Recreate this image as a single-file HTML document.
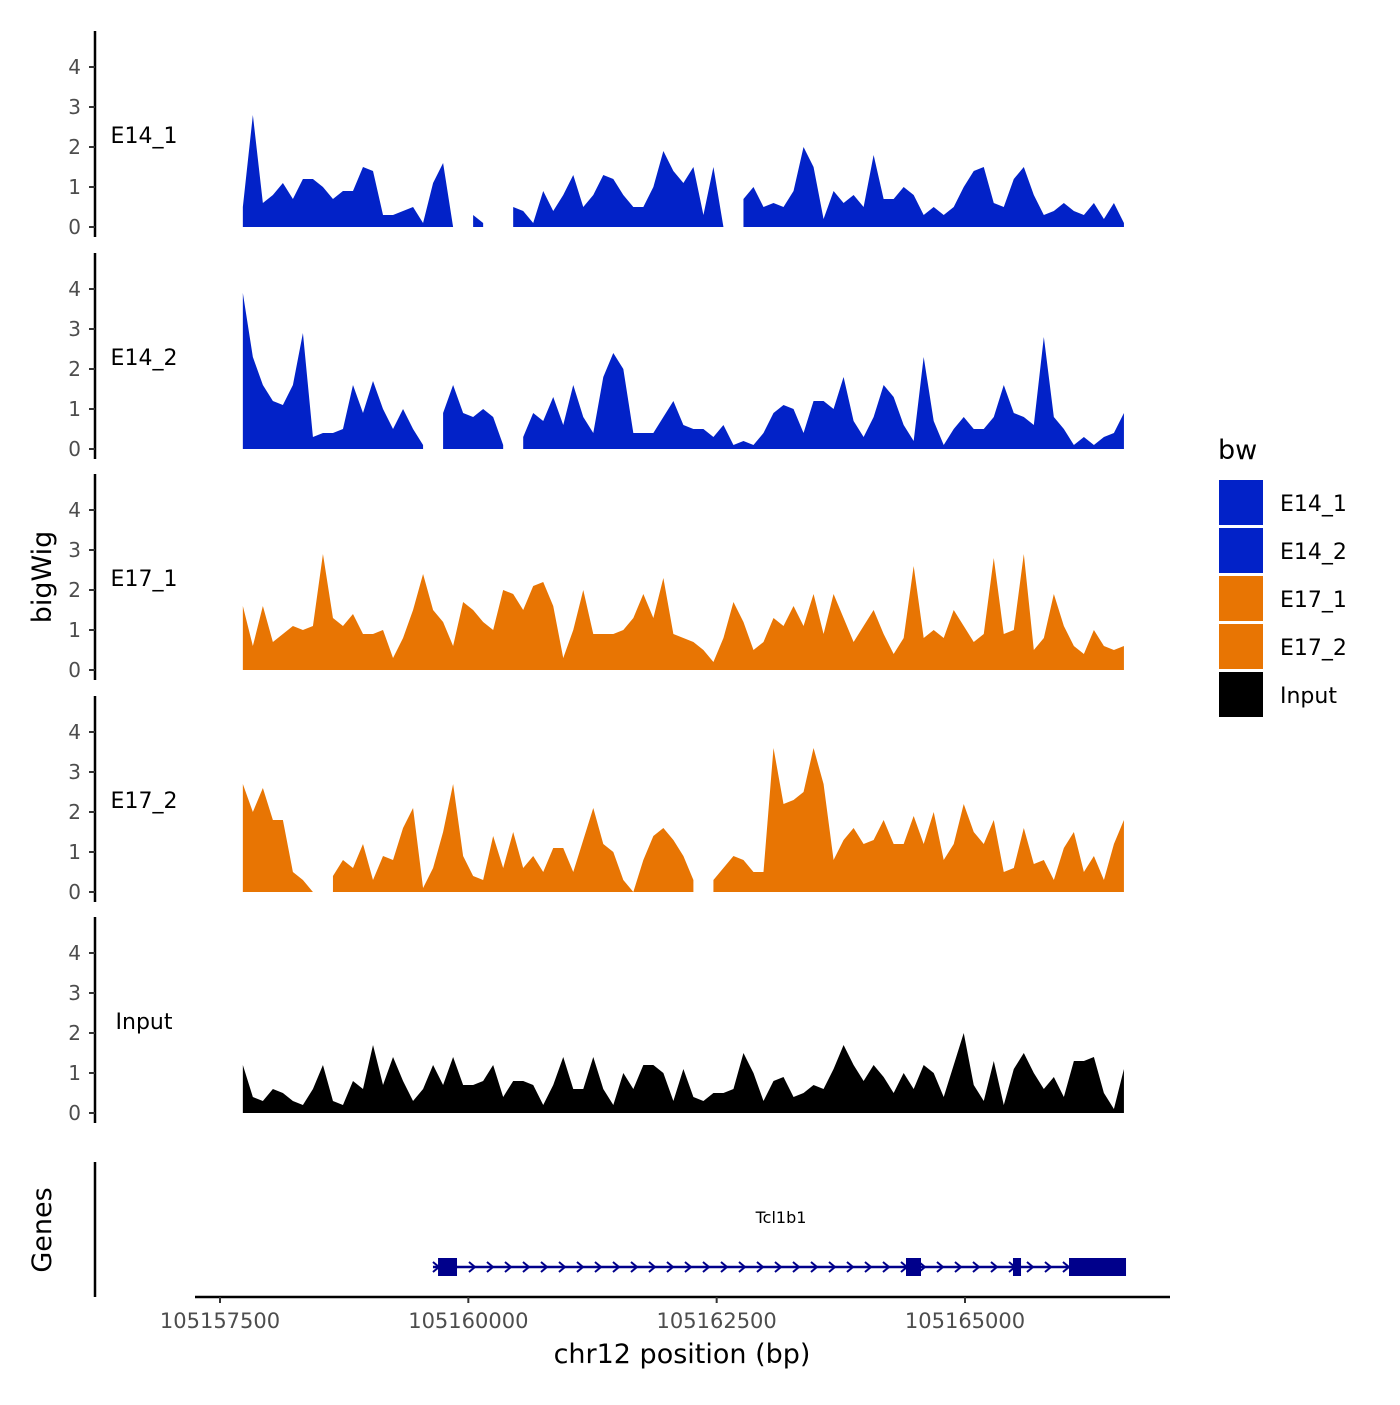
<!DOCTYPE html>
<html><head><meta charset="utf-8"><style>
html,body{margin:0;padding:0;background:#fff}
svg text{font-family:"DejaVu Sans","Liberation Sans",sans-serif}
</style></head><body>
<svg id="chart" width="1400" height="1400" viewBox="0 0 1400 1400" xmlns="http://www.w3.org/2000/svg">
<g id="tracks"></g>
<g id="genes"></g>
<g id="xaxis"></g>
<g id="legend"></g>
<text x="51" y="577" font-size="27" text-anchor="middle" transform="rotate(-90 51 577)">bigWig</text>
<text x="51" y="1230" font-size="27" text-anchor="middle" transform="rotate(-90 51 1230)">Genes</text>
<text x="682" y="1363" font-size="27" text-anchor="middle">chr12 position (bp)</text>
</svg>
<script>
const trackNames = ["E14_1","E14_2","E17_1","E17_2","Input"];
const trackColors = ["#0222C8","#0222C8","#E87503","#E87503","#000000"];
const startBp = 105157730;
const endBp = 105166600;
const yTicks = [0,1,2,3,4];
const xTicks = [105157500,105160000,105162500,105165000];
const E14_1 = [0.5,2.8,0.6,0.8,1.1,0.7,1.2,1.2,1.0,0.7,0.9,0.9,1.5,1.4,0.3,0.3,0.4,0.5,0.1,1.1,1.6,0,null,0.3,0.1,null,null,0.5,0.4,0.1,0.9,0.4,0.8,1.3,0.5,0.8,1.3,1.2,0.8,0.5,0.5,1.0,1.9,1.4,1.1,1.5,0.3,1.5,0,null,0.7,1.0,0.5,0.6,0.5,0.9,2.0,1.5,0.2,0.9,0.6,0.8,0.5,1.8,0.7,0.7,1.0,0.8,0.3,0.5,0.3,0.5,1.0,1.4,1.5,0.6,0.5,1.2,1.5,0.8,0.3,0.4,0.6,0.4,0.3,0.6,0.2,0.6,0.1];
const E14_2 = [3.9,2.3,1.6,1.2,1.1,1.6,2.9,0.3,0.4,0.4,0.5,1.6,0.9,1.7,1.0,0.5,1.0,0.5,0.1,null,0.9,1.6,0.9,0.8,1.0,0.8,0.1,null,0.3,0.9,0.7,1.3,0.6,1.6,0.8,0.4,1.8,2.4,2.0,0.4,0.4,0.4,0.8,1.2,0.6,0.5,0.5,0.3,0.6,0.1,0.2,0.1,0.4,0.9,1.1,1.0,0.4,1.2,1.2,1.0,1.8,0.7,0.3,0.8,1.6,1.3,0.6,0.2,2.3,0.7,0.1,0.5,0.8,0.5,0.5,0.8,1.6,0.9,0.8,0.6,2.8,0.8,0.5,0.1,0.3,0.1,0.3,0.4,0.9];
const E17_1 = [1.6,0.6,1.6,0.7,0.9,1.1,1.0,1.1,2.9,1.3,1.1,1.4,0.9,0.9,1.0,0.3,0.8,1.5,2.4,1.5,1.2,0.6,1.7,1.5,1.2,1.0,2.0,1.9,1.5,2.1,2.2,1.6,0.3,1.0,2.0,0.9,0.9,0.9,1.0,1.3,1.9,1.3,2.3,0.9,0.8,0.7,0.5,0.2,0.8,1.7,1.2,0.5,0.7,1.3,1.1,1.6,1.1,1.9,0.9,1.9,1.3,0.7,1.1,1.5,0.9,0.4,0.8,2.6,0.8,1.0,0.8,1.5,1.1,0.7,0.9,2.8,0.9,1.0,2.9,0.5,0.8,1.9,1.1,0.6,0.4,1.0,0.6,0.5,0.6];
const E17_2 = [2.7,2.0,2.6,1.8,1.8,0.5,0.3,0,null,0.4,0.8,0.6,1.2,0.3,0.9,0.8,1.6,2.1,0.1,0.6,1.5,2.7,0.9,0.4,0.3,1.4,0.6,1.5,0.6,0.9,0.5,1.1,1.1,0.5,1.3,2.1,1.2,1.0,0.3,0,0.8,1.4,1.6,1.3,0.9,0.3,null,0.3,0.6,0.9,0.8,0.5,0.5,3.6,2.2,2.3,2.5,3.6,2.7,0.8,1.3,1.6,1.2,1.3,1.8,1.2,1.2,1.9,1.2,2.0,0.8,1.2,2.2,1.5,1.2,1.8,0.5,0.6,1.6,0.7,0.8,0.3,1.1,1.5,0.5,0.9,0.3,1.2,1.8];
const Input = [1.2,0.4,0.3,0.6,0.5,0.3,0.2,0.6,1.2,0.3,0.2,0.8,0.6,1.7,0.7,1.4,0.8,0.3,0.6,1.2,0.7,1.4,0.7,0.7,0.8,1.2,0.4,0.8,0.8,0.7,0.2,0.7,1.4,0.6,0.6,1.4,0.6,0.2,1.0,0.6,1.2,1.2,1.0,0.3,1.1,0.4,0.3,0.5,0.5,0.6,1.5,1.0,0.3,0.8,0.9,0.4,0.5,0.7,0.6,1.1,1.7,1.2,0.8,1.2,0.9,0.5,1.0,0.6,1.2,1.0,0.4,1.2,2.0,0.7,0.3,1.3,0.2,1.1,1.5,1.0,0.6,0.9,0.4,1.3,1.3,1.4,0.5,0.1,1.1];
const trackValues = [E14_1,E14_2,E17_1,E17_2,Input];
const geneName = "Tcl1b1";
const geneStart = 105159644;
const geneEnd = 105166620;
const exonStarts = [105159695,105164406,105165483,105166047];
const exonEnds = [105159886,105164557,105165564,105166621];

const NS="http://www.w3.org/2000/svg";
function mk(tag,attrs,parent,txt){const e=document.createElementNS(NS,tag);for(const k in attrs)e.setAttribute(k,attrs[k]);if(txt!==undefined)e.textContent=txt;parent.appendChild(e);return e;}
const xScale = bp => 220 + (bp-105157500)*(965-220)/7500;
const baselines=[227,449,670,892,1113];
const yScale = (v,t) => baselines[t] - v*40;

const tracks=document.getElementById('tracks');
trackNames.forEach((name,t)=>{
  const g=mk('g',{},tracks);
  
  
  const b=baselines[t];
  const ax=mk('line',{x1:95,x2:95,y1:b-196,y2:b+10,stroke:'#000','stroke-width':2.5},g);
  
  
  yTicks.forEach(v=>{
    const y=yScale(v,t);
    mk('line',{x1:89,x2:95,y1:y,y2:y,stroke:'#333','stroke-width':2},g);
    const tl=mk('text',{x:81,y:y+7,'font-size':20,fill:'#4d4d4d','text-anchor':'end'},g,String(v));
    
    
  });
  const lab=mk('text',{x:144,y:b-84,'font-size':22,'text-anchor':'middle'},g,name);
  
  
  const vals=trackValues[t];
  const n=vals.length;
  const px=i=>xScale(startBp+i*(endBp-startBp)/(n-1));
  let seg=[];
  const segs=[];
  vals.forEach((v,i)=>{if(v===null){if(seg.length)segs.push(seg);seg=[];}else seg.push(i);});
  if(seg.length)segs.push(seg);
  segs.forEach(s=>{
    let d='M'+px(s[0])+','+b;
    s.forEach(i=>{d+=' L'+px(i)+','+yScale(vals[i],t);});
    d+=' L'+px(s[s.length-1])+','+b+' Z';
    const p=mk('path',{d:d,fill:trackColors[t]},g);
    
    
  });
});

// gene track
const gg=document.getElementById('genes');
const gax=mk('line',{x1:95,x2:95,y1:1162,y2:1297,stroke:'#000','stroke-width':2.5},gg);


const gy=1267;
const gl=mk('line',{x1:xScale(geneStart),x2:xScale(geneEnd),y1:gy,y2:gy,stroke:'#00008B','stroke-width':2.5},gg);


for(let x=xScale(geneStart)+3;x<xScale(geneEnd)-5;x+=18){
  const a=mk('path',{d:`M${x-3},${gy-5} L${x+3},${gy} L${x-3},${gy+5}`,fill:'none',stroke:'#00008B','stroke-width':2},gg);
  
  
}
exonStarts.forEach((s,i)=>{
  const r=mk('rect',{x:xScale(s),y:gy-9,width:xScale(exonEnds[i])-xScale(s),height:18,fill:'#00008B'},gg);
  
  
});
const gt=mk('text',{x:781,y:1223,'font-size':16,'text-anchor':'middle'},gg,geneName);



// x axis
const xa=document.getElementById('xaxis');
const xl=mk('line',{x1:195,x2:1170,y1:1297,y2:1297,stroke:'#000','stroke-width':2.5},xa);


xTicks.forEach(v=>{
  const x=xScale(v);
  mk('line',{x1:x,x2:x,y1:1297,y2:1303,stroke:'#333','stroke-width':2},xa);
  const t=mk('text',{x:x,y:1328,'font-size':21,fill:'#4d4d4d','text-anchor':'middle'},xa,String(v));
  
  
});

// legend
const lg=document.getElementById('legend');
const lt=mk('text',{x:1218,y:459,'font-size':27},lg,'bw');


trackNames.forEach((name,i)=>{
  const y=480+i*48;
  const e=mk('g',{},lg);
  
  
  mk('rect',{x:1219,y:y,width:44,height:45,fill:trackColors[i]},e);
  mk('text',{x:1280,y:y+31,'font-size':22},e,name);
});
</script>
</body></html>
